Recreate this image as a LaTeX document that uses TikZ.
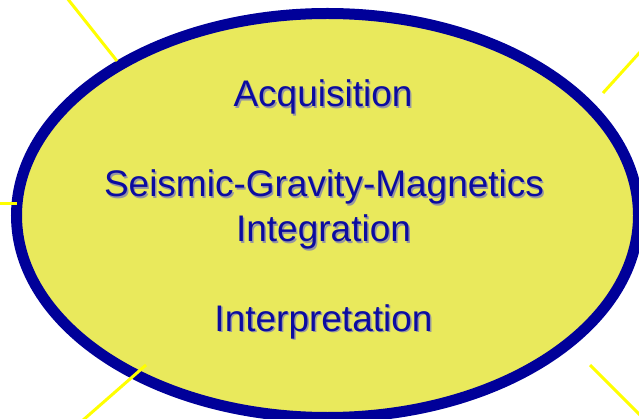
\documentclass[tikz,border=0pt]{standalone}
\usepackage{fontspec}
\setmainfont{Liberation Sans}
\usetikzlibrary{shapes.geometric}
\definecolor{fillyellow}{RGB}{233,233,92}
\definecolor{rimblue}{RGB}{0,0,153}
\definecolor{textblue}{RGB}{12,12,160}
\definecolor{shadowgray}{RGB}{150,150,160}
\definecolor{rayyellow}{RGB}{255,255,0}
\tikzset{
  rim/.style={ellipse, draw=rimblue, fill=fillyellow, line width=11pt,
    minimum width=622pt, minimum height=404pt, inner sep=0pt},
  lbl/.style={anchor=base, text=textblue, inner sep=0pt,
    font=\fontsize{37}{44}\selectfont},
  lblshadow/.style={anchor=base, text=shadowgray, inner sep=0pt,
    font=\fontsize{37}{44}\selectfont},
  ray/.style={draw=rayyellow, line width=3pt}
}
\begin{document}
\begin{tikzpicture}[x=1pt,y=-1pt]
\useasboundingbox (0,0) rectangle (639,419);
\clip (0,0) rectangle (639,419);
\fill[white] (0,0) rectangle (639,419);
\node[rim] (main) at (327.5,215.5) {};
% rays
\coordinate (r1a) at (67,-2);
\coordinate (r1b) at (117,61);
\coordinate (r2a) at (641,51);
\coordinate (r2b) at (603,93);
\coordinate (r3a) at (-2,204);
\coordinate (r3b) at (17,204);
\coordinate (r4a) at (82,421);
\coordinate (r4b) at (146,365);
\coordinate (r5a) at (590,365);
\coordinate (r5b) at (641,416);
\draw[ray] (r1a) -- (r1b);
\draw[ray] (r2a) -- (r2b);
\draw[ray] (r3a) -- (r3b);
\draw[ray] (r4a) -- (r4b);
\draw[ray] (r5a) -- (r5b);
% texts with shadow
\node[lblshadow] (s1) at (324.5,108.5) {Acquisition};
\node[lbl] (t1) at (323,107) {Acquisition};
\node[lblshadow] (s2) at (325.5,198.5) {Seismic-Gravity-Magnetics};
\node[lbl] (t2) at (324,197) {Seismic-Gravity-Magnetics};
\node[lblshadow] (s3) at (325,243.5) {Integration};
\node[lbl] (t3) at (323.5,242) {Integration};
\node[lblshadow] (s4) at (325,332.5) {Interpretation};
\node[lbl] (t4) at (323.5,331) {Interpretation};
\end{tikzpicture}
\end{document}
